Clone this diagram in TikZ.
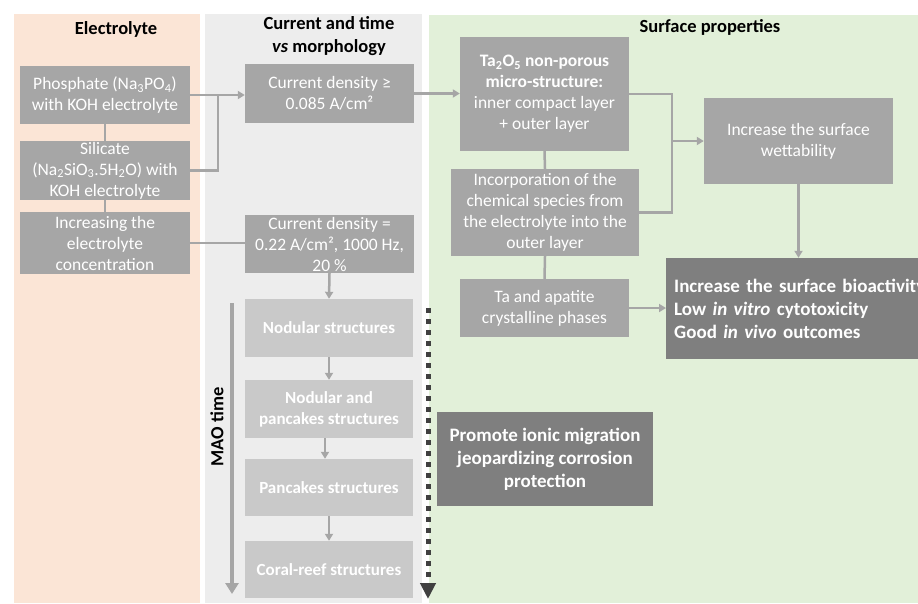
\documentclass[tikz,border=0pt]{standalone}
\usepackage{fontspec}
\setmainfont{Carlito}
\usetikzlibrary{arrows.meta}
\definecolor{orpanel}{HTML}{FBE5D6}
\definecolor{grpanel}{HTML}{EDEDED}
\definecolor{gnpanel}{HTML}{E2F0D9}
\definecolor{boxgray}{HTML}{A6A6A6}
\definecolor{lightbox}{HTML}{C9C9C9}
\definecolor{darkbox}{HTML}{7F7F7F}
\definecolor{conncol}{HTML}{A6A6A6}
\definecolor{dotcol}{HTML}{404040}
\begin{document}
\begin{tikzpicture}[x=1pt,y=-1pt,
  box/.style={fill=boxgray, text=white, align=center, inner sep=0pt, font=\fontsize{17.5}{21}\selectfont},
  lbox/.style={box, fill=lightbox, font=\fontsize{17}{21}\selectfont\bfseries},
  dbox/.style={fill=darkbox, text=white, inner sep=0pt, font=\fontsize{19}{23}\selectfont\bfseries},
  title/.style={text=black, align=center, inner sep=0pt, font=\fontsize{18.5}{23}\selectfont\bfseries},
  conn/.style={draw=conncol, line width=2.5pt},
  arr/.style={conn, -{Triangle[length=7pt,width=8pt]}},
  maoarr/.style={draw=conncol, line width=3.5pt, -{Triangle[length=11pt,width=13pt]}},
  dotline/.style={draw=dotcol, line width=5pt, dash pattern=on 5pt off 6pt, -{Triangle[length=16pt,width=15pt]}}
]
\useasboundingbox (0,0) rectangle (918,603);
\clip (0,0) rectangle (918,603);
% panels
\fill[orpanel] (14,14) rectangle (200,603);
\fill[grpanel] (205,14) rectangle (422,603);
\fill[gnpanel] (429,15) rectangle (918,603);
% titles
\node[title] (t1) at (116,29) {Electrolyte};
\node[title] (t2) at (329,36) {Current and time\\\textit{vs} morphology};
\node[title] (t3) at (710,27) {Surface properties};
% electrolyte column
\node[box, minimum width=170pt, minimum height=58pt] (phos) at (105,95) {Phosphate (Na\textsubscript{3}PO\textsubscript{4})\\with KOH electrolyte};
\node[box, minimum width=170pt, minimum height=59pt] (sil) at (105,170.5) {Silicate\\(Na\textsubscript{2}SiO\textsubscript{3}.5H\textsubscript{2}O) with\\KOH electrolyte};
\node[box, minimum width=170pt, minimum height=62pt] (inc) at (105,243) {Increasing the\\electrolyte\\concentration};
% current column
\node[box, minimum width=169pt, minimum height=59pt] (cd1) at (329.5,93.5) {Current density ≥\\0.085 A/cm²};
\node[box, minimum width=169pt, minimum height=58pt] (cd2) at (329.5,244) {Current density =\\0.22 A/cm², 1000 Hz,\\20 \%};
\node[lbox, minimum width=168pt, minimum height=58pt] (nod) at (329,328) {Nodular structures};
\node[lbox, minimum width=168pt, minimum height=58pt] (nodpan) at (329,409) {Nodular and\\pancakes structures};
\node[lbox, minimum width=168pt, minimum height=57pt] (pan) at (329,487.5) {Pancakes structures};
\node[lbox, minimum width=168pt, minimum height=57pt] (coral) at (329,569.5) {Coral-reef structures};
% surface column
\node[box, minimum width=169pt, minimum height=114pt] (tao) at (544.5,94) {\textbf{Ta\textsubscript{2}O\textsubscript{5} non-porous}\\\textbf{micro-structure:}\\inner compact layer\\+ outer layer};
\node[box, minimum width=188pt, minimum height=87pt] (incorp) at (545,212.5) {Incorporation of the\\chemical species from\\the electrolyte into the\\outer layer};
\node[box, minimum width=169pt, minimum height=58pt] (taap) at (544.5,308) {Ta and apatite\\crystalline phases};
\node[box, minimum width=189pt, minimum height=86pt] (wet) at (798.5,141) {Increase the surface\\wettability};
\node[dbox, anchor=west, minimum height=101pt, text width=300pt, align=left, inner xsep=8pt] (bio) at (666,308.5) {Increase the surface bioactivity\\Low \textit{in vitro} cytotoxicity\\Good \textit{in vivo} outcomes};
\node[dbox, minimum width=216pt, minimum height=94pt, align=center] (prom) at (545,459) {Promote ionic migration\\jeopardizing corrosion\\protection};
% MAO time
\coordinate (m1) at (232,303);
\coordinate (m2) at (232,594);
\draw[maoarr] (m1) -- (m2);
\node[rotate=90, inner sep=0pt, font=\fontsize{18.5}{22}\selectfont\bfseries] (mao) at (217,427) {MAO time};
% dotted arrow
\coordinate (d1) at (428,308);
\coordinate (d2) at (428,599);
\draw[dotline] (d1) -- (d2);
% connectors
\coordinate (j1) at (218,95);
\coordinate (j2) at (672,141);
\draw[conn] (phos.south) -- (sil.north);
\draw[conn] (sil.south) -- (inc.north);
\draw[arr] (phos.east) -- (phos.east -| cd1.west);
\draw[conn] (sil.east) -| (j1);
\draw[conn] (inc.east) -- (inc.east -| cd2.west);
\draw[arr] (cd2.south) -- (nod.north);
\draw[arr] (nod.south) -- (nodpan.north);
\draw[arr] ([xshift=-4pt]nodpan.south) -- ([xshift=-4pt]pan.north);
\draw[arr] (pan.south) -- (coral.north);
\draw[arr] (cd1.east) -- (cd1.east -| tao.west);
\draw[conn] (tao.south) -- (incorp.north);
\draw[conn] (incorp.south) -- (taap.north);
\draw[conn] (tao.east) -| (j2);
\draw[conn] (incorp.east) -| (j2);
\draw[arr] (j2) -- (wet.west);
\draw[arr] (taap.east) -- (taap.east -| bio.west);
\draw[arr] (wet.south) -- (wet.south |- bio.north);
\end{tikzpicture}
\end{document}
